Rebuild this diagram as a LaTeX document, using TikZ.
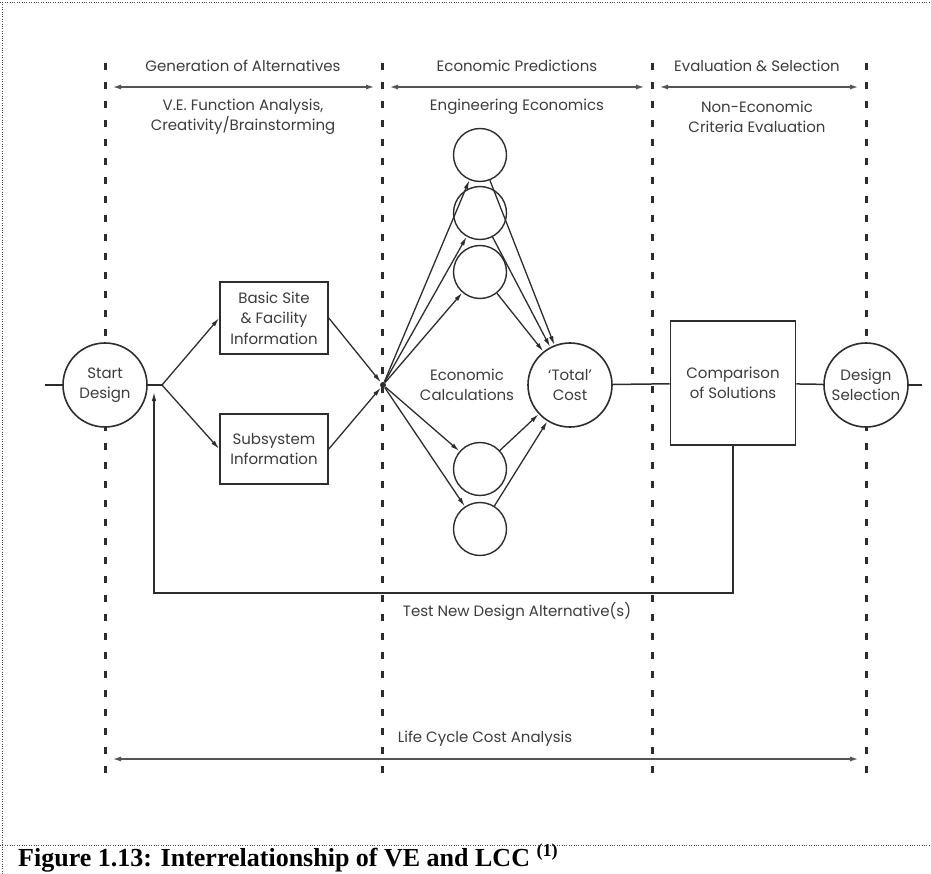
\documentclass[tikz,border=0pt]{standalone}
\usepackage{fontspec}
\setmainfont{Poppins}
\newfontfamily\capfont{Liberation Serif}
\usepackage{tikz}
\usetikzlibrary{arrows.meta,positioning}
\definecolor{inkc}{RGB}{45,45,45}
\definecolor{textc}{RGB}{60,60,60}
\definecolor{spanc}{RGB}{85,85,85}
\newcommand{\lbfont}{\fontsize{15}{20.5}\selectfont}
\tikzset{
  stage/.style   = {circle, draw=inkc, line width=1.6pt, fill=white, minimum size=84pt,
                    inner sep=0pt, align=center, font=\lbfont, text=textc},
  calc/.style    = {circle, draw=inkc, line width=1.4pt, fill=white, minimum size=53pt, inner sep=0pt},
  info/.style    = {rectangle, draw=inkc, line width=1.6pt, fill=white, minimum width=108pt,
                    minimum height=70pt, align=center, font=\lbfont, text=textc},
  flow/.style    = {-{Latex[length=9pt,width=4.5pt]}, line width=1.3pt, draw=inkc},
  link/.style    = {line width=1.5pt, draw=inkc},
  span/.style    = {{Latex[length=9pt,width=5pt]}-{Latex[length=9pt,width=5pt]}, line width=2.4pt, draw=spanc},
  divider/.style = {line width=3pt, draw=inkc, dash pattern=on 7pt off 12pt},
  lbl/.style     = {font=\lbfont, text=textc, align=center},
  frame/.style   = {line width=0.8pt, dash pattern=on 0.8pt off 1.6pt, draw=black!70},
}

\begin{document}
\begin{tikzpicture}[x=1pt, y=-1pt]
\useasboundingbox (0,0) rectangle (931,874);

% ---------- frame ----------
\draw[frame] (0,2) -- (931,2);
\draw[frame] (2,2) -- (2,874);
\draw[frame] (0,845) -- (931,845);

% ---------- phase dividers ----------
\foreach \x in {105,382,652,866}
  \draw[divider] (\x,63) -- (\x,777);

% ---------- phase headers ----------
\node[lbl] (hgen) at (243,66) {Generation of Alternatives};
\node[lbl] (hgenb) at (243,117) {V.E. Function Analysis,\\Creativity/Brainstorming};
\node[lbl] (hpre) at (517,66) {Economic Predictions};
\node[lbl] (hpreb) at (517,107) {Engineering Economics};
\node[lbl] (hsel) at (757,66) {Evaluation \& Selection};
\node[lbl] (hselb) at (757,117) {Non-Economic\\Criteria Evaluation};
\coordinate (g1) at (112,87);  \coordinate (g2) at (375,87);
\coordinate (p1) at (389,87);  \coordinate (p2) at (645,87);
\coordinate (s1) at (659,87);  \coordinate (s2) at (859,87);
\draw[span] (g1) -- (g2);
\draw[span] (p1) -- (p2);
\draw[span] (s1) -- (s2);

% ---------- main flow ----------
\node[stage] (start) at (105,385) {Start\\Design};
\coordinate (inL) at (45,385);
\coordinate (fork) at (162,385);
\node[info, minimum height=72pt] (site) at (274,318) {Basic Site\\\& Facility\\Information};
\node[info] (subsys) at (274,449) {Subsystem\\Information};
\node[circle, fill=inkc, inner sep=0pt, minimum size=6pt] (hub) at (383,385) {};
\foreach \y [count=\i] in {155,213,272,469,529}
  \node[calc] (c\i) at (480,\y) {};
\node[lbl] (econ) at (467,385) {Economic\\Calculations};
\node[stage] (total) at (570,385) {`Total'\\Cost};
\node[info, minimum width=125pt, minimum height=124pt] (compare) at (733,383) {Comparison\\of Solutions};
\node[stage] (select) at (866,385) {Design\\Selection};
\coordinate (outR) at (922,385);

\draw[link] (inL) -- (start);
\draw[link] (start) -- (fork);
\draw[flow] (fork) -- (site.west);
\draw[flow] (fork) -- (subsys.west);
\draw[flow] (site.east) -- (hub);
\draw[flow] (subsys.east) -- (hub);
\foreach \i in {1,...,5}
  \draw[flow] (hub) -- (c\i);
\foreach \i in {1,...,5}
  \draw[flow] (c\i) -- (total);
\draw[link] (total) -- (compare);
\draw[link] (compare) -- (select);
\draw[link] (select) -- (outR);

% ---------- feedback loop ----------
\coordinate (loop) at (154,593);
\coordinate (back) at (154,392);
\draw[flow] (compare.south) |- (loop) -- (back);
\node[lbl] (retry) at (517,612) {Test New Design Alternative(s)};

% ---------- life cycle span ----------
\node[lbl] (lcca) at (485,739) {Life Cycle Cost Analysis};
\coordinate (l1) at (112,759); \coordinate (l2) at (859,759);
\draw[span] (l1) -- (l2);

% ---------- caption ----------
\node[anchor=base west, inner sep=0pt, font=\capfont\bfseries\fontsize{26}{29}\selectfont] (cap)
  at (18,866) {Figure 1.13: Interrelationship of VE and LCC \textsuperscript{(1)}};

\end{tikzpicture}
\end{document}
